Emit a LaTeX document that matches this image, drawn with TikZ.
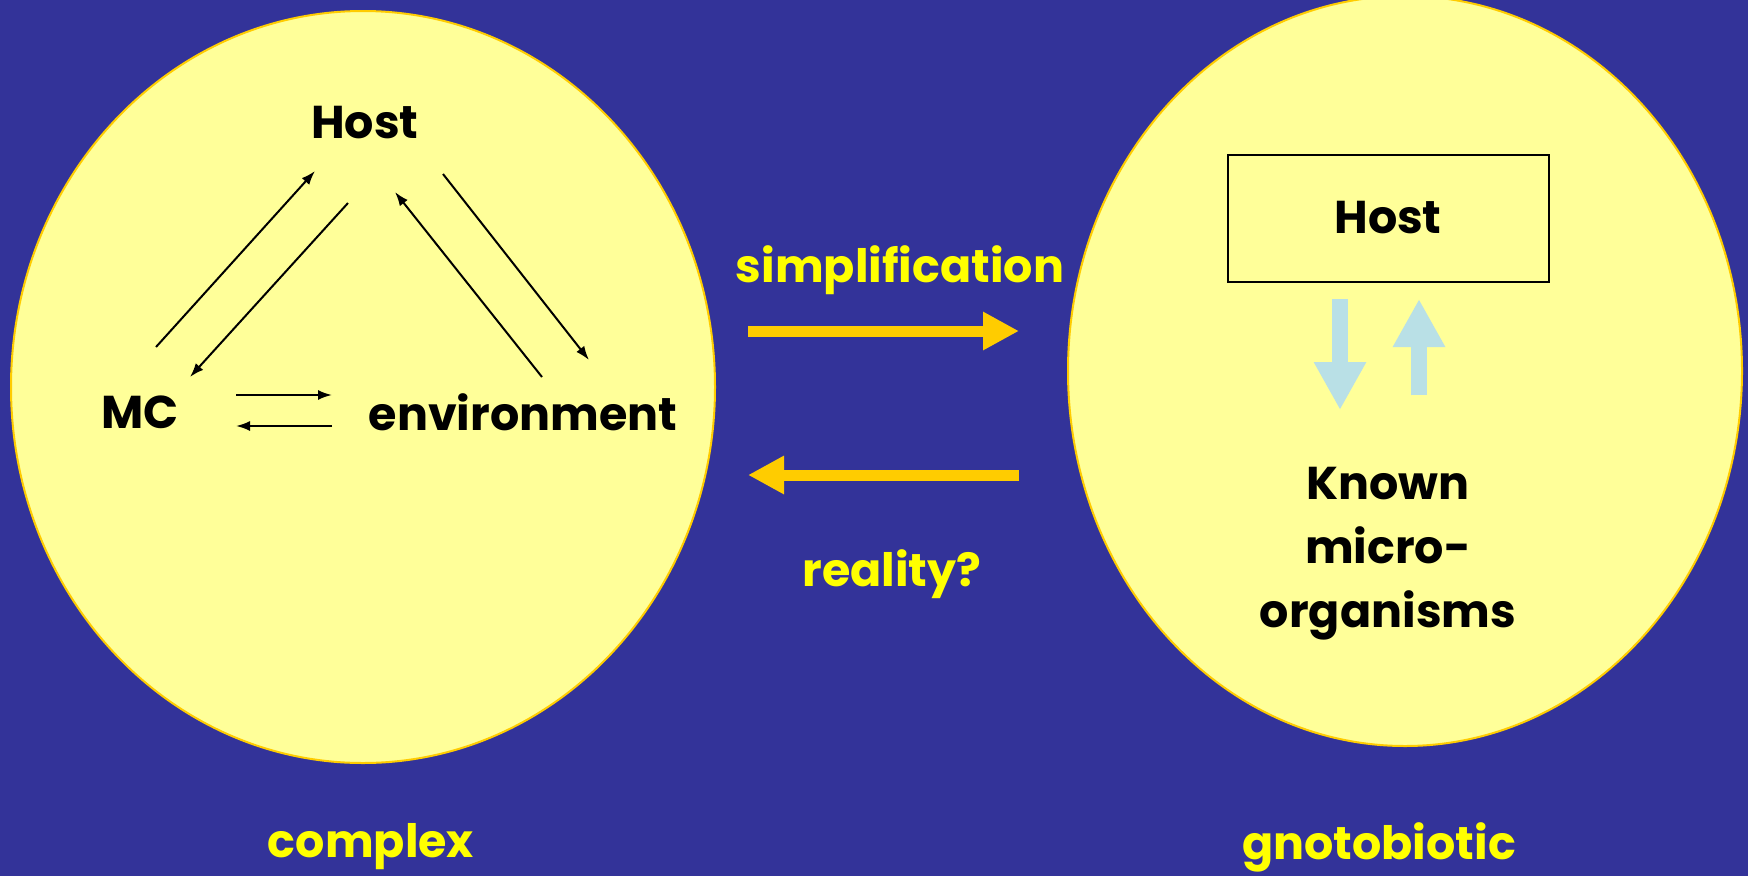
\documentclass[tikz,border=0pt]{standalone}
\usepackage{fontspec}
\setmainfont{Poppins}
\usetikzlibrary{arrows.meta, positioning}
\definecolor{bgblue}{HTML}{333399}
\definecolor{paleyel}{HTML}{FFFF99}
\definecolor{goldline}{HTML}{FFCC00}
\definecolor{txtyel}{HTML}{FFFF00}
\definecolor{pastel}{HTML}{B9E0E6}

\begin{document}
\begin{tikzpicture}[x=1pt, y=-1pt,
    world/.style={draw=goldline, line width=2pt, fill=paleyel},
    word/.style={font=\fontsize{46}{55}\selectfont\bfseries, text=black, inner sep=0pt},
    caption/.style={font=\fontsize{46}{55}\selectfont\bfseries, text=txtyel, inner sep=0pt},
    link/.style={-{Latex[length=14pt, width=10pt]}, line width=2pt},
    bigarrow/.style={-{Triangle[length=36pt, width=36pt]}, line width=11pt, goldline},
    flow/.style={-{Triangle[length=48pt, width=49pt]}, line width=16pt, pastel},
    >=Stealth
  ]
  \useasboundingbox[fill=bgblue] (0,0) rectangle (1748,876);

  % --- complex system ---
  \draw[world] (363,387) ellipse [x radius=352, y radius=376];
  \node[word] (host) at (365,123) {Host};
  \node[word] (mc) at (140,412) {MC};
  \node[word] (env) at (523,412) {environment};
  \coordinate (mcA) at (156,347);  \coordinate (hostA) at (315,171);
  \coordinate (hostB) at (348,203); \coordinate (mcB) at (190,377);
  \coordinate (envA) at (542,377);  \coordinate (hostC) at (395,192);
  \coordinate (hostD) at (443,174); \coordinate (envB) at (589,360);
  \coordinate (mcC) at (236,395);   \coordinate (envC) at (332,395);
  \coordinate (envD) at (332,426);  \coordinate (mcD) at (236,426);
  \draw[link] (mcA) -- (hostA);
  \draw[link] (hostB) -- (mcB);
  \draw[link] (envA) -- (hostC);
  \draw[link] (hostD) -- (envB);
  \draw[link] (mcC) -- (envC);
  \draw[link] (envD) -- (mcD);
  \node[caption] (complex) at (371,847) {complex};

  % --- between the two ---
  \node[caption] (simp) at (900,270) {simplification};
  \coordinate (simpL) at (748,331); \coordinate (simpR) at (1019,331);
  \draw[bigarrow] (simpL) -- (simpR);
  \coordinate (realR) at (1019,475); \coordinate (realL) at (748,475);
  \draw[bigarrow] (realR) -- (realL);
  \node[caption] (real) at (892,574) {reality?};

  % --- gnotobiotic system ---
  \draw[world] (1405,371) ellipse [x radius=337, y radius=375];
  \node[word, draw=black, line width=2pt, minimum width=321pt,
        minimum height=127pt] (ghost) at (1388,218) {Host};
  \node[word, align=center, font=\fontsize{46}{64}\selectfont\bfseries]
        (known) at (1388,554) {Known\\micro-\\organisms};
  \coordinate (downT) at (1340,299); \coordinate (downB) at (1340,410);
  \coordinate (upB) at (1419,395);   \coordinate (upT) at (1419,299);
  \draw[flow] (downT) -- (downB);
  \draw[flow] (upB) -- (upT);
  \node[caption] (gnoto) at (1379,847) {gnotobiotic};

\end{tikzpicture}
\end{document}
